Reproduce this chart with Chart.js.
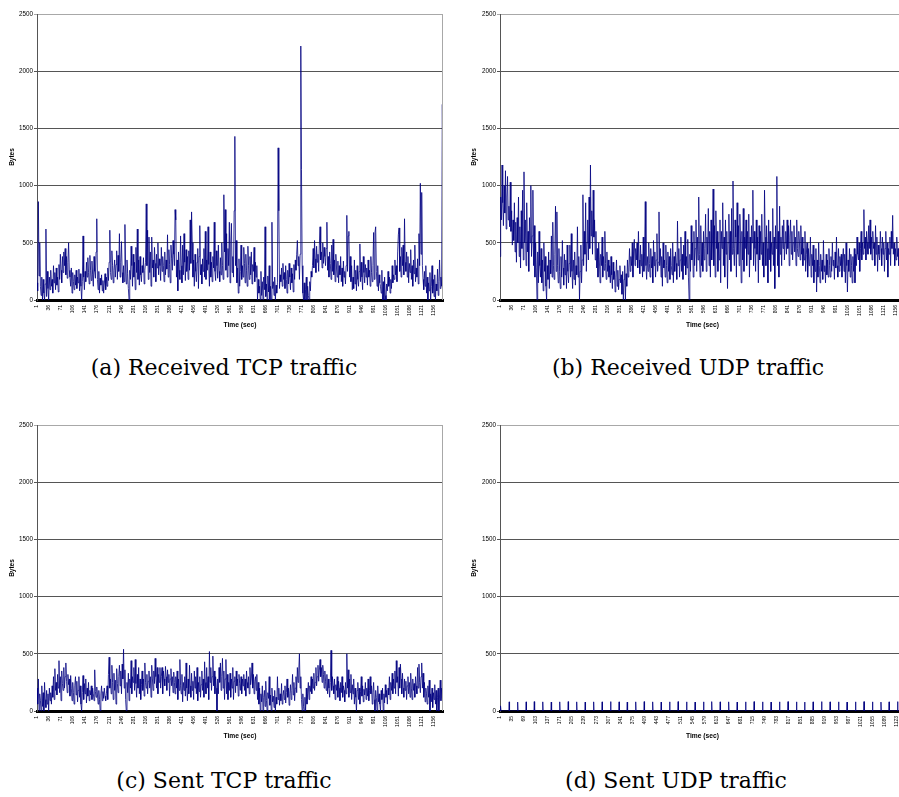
<!DOCTYPE html>
<html>
<head>
<meta charset="utf-8">
<script src="https://cdn.jsdelivr.net/npm/chart.js@4.4.1/dist/chart.umd.min.js"></script>
<style>
  body { margin: 0; width: 899px; height: 797px; overflow: hidden; background: #fff; position: relative; }
  canvas { position: absolute; }
  .caption { position: absolute; width: 400px; text-align: center; font-family: "DejaVu Serif", serif; font-size: 22px; color: #000; white-space: nowrap; }
</style>
</head>
<body>
<canvas id="tcpRecvChart" width="450" height="335" style="left:0;top:0"></canvas>
<canvas id="udpRecvChart" width="460" height="335" style="left:450px;top:0"></canvas>
<canvas id="tcpSentChart" width="450" height="335" style="left:0;top:411px"></canvas>
<canvas id="udpSentChart" width="460" height="335" style="left:450px;top:411px"></canvas>
<div class="caption" style="left:24px;top:355px">(a) Received TCP traffic</div>
<div class="caption" style="left:488px;top:355px">(b) Received UDP traffic</div>
<div class="caption" style="left:24px;top:768px">(c) Sent TCP traffic</div>
<div class="caption" style="left:476px;top:768px">(d) Sent UDP traffic</div>
<script>
// one sample every 2 seconds, starting at t = 1
const SAMPLE_STEP = 2;

const timeTicks = [1, 36, 71, 106, 141, 176, 211, 246, 281, 316, 351, 386, 421, 456, 491, 526, 561,
  596, 631, 666, 701, 736, 771, 806, 841, 876, 911, 946, 981, 1016, 1051, 1086, 1121, 1156];
const udpSentTimeTicks = [1, 35, 69, 103, 137, 171, 205, 239, 273, 307, 341, 375, 409, 443, 477, 511,
  545, 579, 613, 647, 681, 715, 749, 783, 817, 851, 885, 919, 953, 987, 1021, 1055, 1089, 1123];

// received TCP bytes
const tcpReceived = [
  150, 80, 860, 210, 500, 120, 40, 200, 0, 180, 60, 0, 140, 620, 30, 250, 100, 0, 200, 90,
  260, 120, 180, 60, 300, 150, 240, 90, 280, 130, 200, 70, 310, 180, 400, 260, 150, 380, 240, 420,
  300, 450, 220, 380, 190, 330, 500, 260, 200, 120, 280, 60, 240, 160, 90, 220, 130, 260, 100, 200,
  150, 270, 80, 230, 120, 0, 160, 560, 200, 90, 250, 160, 330, 200, 370, 240, 140, 390, 260, 170,
  340, 220, 120, 380, 250, 190, 420, 710, 180, 90, 250, 60, 190, 130, 220, 80, 170, 60, 140, 230,
  90, 200, 120, 280, 170, 330, 610, 240, 180, 430, 300, 150, 260, 350, 200, 310, 430, 180, 390, 250,
  580, 200, 330, 510, 240, 150, 300, 160, 660, 280, 140, 350, 230, 100, 0, 260, 180, 470, 300, 120,
  400, 200, 330, 90, 460, 240, 620, 180, 350, 130, 380, 220, 160, 300, 240, 370, 140, 260, 330, 840,
  300, 610, 180, 550, 240, 420, 120, 550, 280, 350, 200, 460, 320, 160, 400, 280, 500, 220, 360, 300,
  170, 460, 250, 380, 300, 160, 420, 220, 350, 270, 570, 200, 440, 310, 150, 480, 360, 260, 520, 400,
  300, 790, 700, 200, 350, 80, 420, 260, 180, 560, 300, 150, 480, 220, 580, 330, 170, 440, 250, 380,
  180, 430, 260, 700, 320, 770, 500, 200, 350, 120, 400, 250, 160, 330, 450, 100, 380, 650, 220, 310,
  140, 360, 250, 450, 200, 600, 180, 350, 260, 640, 310, 120, 420, 200, 330, 160, 380, 280, 680, 250,
  170, 430, 300, 190, 480, 250, 160, 370, 220, 500, 300, 180, 920, 420, 790, 260, 580, 200, 450, 300,
  680, 150, 500, 670, 240, 380, 200, 780, 1430, 300, 520, 150, 280, 60, 360, 120, 250, 480, 180, 300,
  200, 460, 320, 150, 400, 260, 120, 470, 300, 180, 380, 220, 420, 140, 310, 250, 460, 160, 330, 200,
  300, 0, 180, 60, 120, 0, 250, 40, 160, 0, 200, 90, 640, 30, 140, 0, 210, 70, 300, 0,
  120, 0, 680, 100, 160, 40, 200, 0, 130, 60, 150, 1330, 780, 100, 220, 160, 280, 120, 320, 180,
  240, 100, 300, 180, 60, 260, 140, 320, 200, 90, 280, 150, 230, 70, 310, 180, 350, 260, 400, 520,
  300, 380, 180, 400, 2220, 1140, 300, 60, 0, 150, 0, 90, 200, 0, 120, 40, 0, 160, 80, 250,
  200, 300, 450, 280, 520, 360, 240, 470, 330, 400, 250, 480, 640, 350, 420, 280, 500, 320, 460, 380,
  300, 450, 680, 260, 380, 200, 420, 320, 180, 480, 250, 530, 220, 350, 160, 400, 280, 200, 340, 150,
  300, 220, 380, 160, 280, 120, 340, 200, 250, 140, 300, 740, 250, 560, 600, 200, 380, 160, 300, 90,
  200, 100, 350, 140, 260, 80, 300, 180, 120, 250, 490, 160, 330, 200, 90, 380, 240, 150, 310, 200,
  280, 130, 350, 200, 260, 120, 380, 240, 160, 300, 590, 180, 590, 640, 250, 120, 300, 80, 220, 150,
  120, 60, 260, 0, 160, 0, 200, 40, 0, 140, 80, 250, 120, 200, 60, 180, 100, 300, 150, 220,
  180, 350, 220, 300, 160, 420, 570, 630, 250, 380, 200, 460, 300, 480, 220, 710, 330, 250, 420, 200,
  380, 150, 320, 240, 440, 180, 300, 120, 350, 230, 480, 160, 280, 200, 360, 140, 580, 300, 1020, 400,
  940, 300, 180, 90, 250, 120, 300, 60, 200, 0, 150, 80, 240, 0, 120, 300, 60, 180, 30, 220,
  0, 140, 80, 270, 40, 160, 350, 100, 200, 120, 1710, 950
];

// received UDP bytes
const udpReceived = [
  380, 900, 700, 1180, 850, 650, 1000, 760, 1130, 620, 900, 1080, 700, 820, 640, 1030, 600, 780, 480, 700,
  520, 850, 420, 680, 330, 720, 500, 900, 380, 640, 280, 780, 450, 960, 350, 1120, 500, 700, 300, 850,
  420, 600, 250, 720, 500, 1000, 380, 560, 960, 300, 650, 200, 500, 280, 0, 420, 150, 600, 300, 200,
  450, 150, 350, 80, 500, 250, 380, 120, 0, 300, 180, 420, 100, 350, 230, 560, 200, 680, 300, 180,
  400, 820, 250, 770, 300, 150, 450, 250, 100, 380, 200, 520, 280, 130, 400, 220, 350, 100, 480, 250,
  150, 320, 480, 200, 580, 250, 100, 350, 180, 420, 130, 300, 220, 640, 200, 380, 0, 250, 480, 150,
  350, 920, 300, 600, 400, 850, 250, 500, 700, 350, 900, 450, 1180, 560, 780, 400, 960, 550, 700, 350,
  600, 280, 450, 200, 500, 350, 150, 400, 300, 550, 200, 380, 260, 600, 320, 180, 420, 250, 350, 200,
  300, 150, 380, 220, 100, 330, 180, 250, 70, 200, 350, 120, 260, 90, 180, 300, 150, 220, 50, 250,
  0, 180, 300, 0, 230, 120, 350, 200, 280, 450, 250, 380, 300, 500, 200, 420, 530, 300, 450, 350,
  500, 280, 600, 350, 230, 480, 300, 400, 200, 550, 250, 420, 860, 300, 180, 380, 250, 500, 320, 200,
  450, 280, 380, 150, 520, 300, 420, 200, 350, 580, 250, 330, 770, 300, 450, 200, 380, 120, 500, 280,
  350, 200, 480, 300, 150, 420, 250, 380, 180, 450, 300, 220, 500, 150, 380, 250, 420, 320, 180, 690,
  300, 450, 200, 350, 550, 250, 400, 180, 480, 300, 600, 220, 380, 280, 530, 200, 0, 400, 250, 650,
  350, 500, 200, 600, 300, 450, 700, 250, 550, 350, 900, 400, 200, 650, 300, 500, 250, 600, 350, 450,
  750, 250, 550, 400, 800, 300, 600, 200, 700, 350, 500, 970, 300, 650, 200, 780, 450, 600, 250, 500,
  350, 700, 150, 600, 450, 850, 300, 550, 200, 700, 400, 600, 100, 500, 750, 350, 600, 250, 800, 400,
  1040, 450, 300, 700, 550, 200, 850, 400, 650, 300, 750, 500, 150, 600, 350, 800, 250, 550, 450, 700,
  300, 600, 400, 750, 200, 550, 350, 650, 500, 960, 300, 600, 450, 250, 700, 400, 550, 150, 650, 350,
  600, 400, 750, 300, 500, 200, 960, 550, 300, 650, 450, 150, 700, 350, 600, 250, 500, 400, 800, 300,
  550, 100, 650, 450, 1080, 300, 600, 200, 820, 400, 550, 300, 650, 450, 700, 350, 500, 600, 400, 700,
  450, 650, 300, 550, 700, 400, 600, 350, 500, 650, 420, 550, 300, 700, 450, 380, 600, 500, 350, 650,
  400, 550, 300, 450, 350, 600, 250, 400, 500, 200, 450, 300, 350, 550, 200, 400, 300, 480, 150, 350,
  250, 450, 70, 350, 200, 500, 300, 150, 400, 250, 350, 180, 520, 250, 300, 150, 400, 220, 350, 200,
  450, 300, 200, 380, 250, 500, 300, 350, 180, 420, 280, 550, 300, 200, 450, 250, 380, 300, 400, 200,
  350, 450, 250, 400, 150, 500, 300, 70, 350, 250, 450, 200, 400, 300, 150, 380, 250, 450, 150, 400,
  300, 550, 400, 350, 500, 250, 450, 600, 350, 500, 400, 790, 450, 550, 350, 600, 500, 400, 650, 450,
  700, 400, 550, 350, 600, 450, 500, 300, 650, 400, 550, 250, 480, 400, 350, 600, 450, 300, 550, 400,
  500, 250, 450, 600, 350, 500, 200, 450, 400, 550, 300, 600, 450, 740, 400, 500, 300, 450, 350, 550,
  380, 450, 300, 500, 350, 420, 280, 480, 400, 350, 450, 380
];

// sent TCP bytes
const tcpSent = [
  200, 60, 280, 0, 150, 90, 0, 220, 40, 160, 0, 250, 100, 30, 180, 60, 150, 0, 200, 90,
  160, 60, 220, 120, 300, 100, 370, 180, 250, 140, 320, 200, 440, 160, 300, 90, 350, 240, 180, 380,
  200, 300, 420, 260, 160, 320, 230, 280, 130, 310, 200, 90, 250, 160, 60, 220, 300, 140, 260, 80,
  180, 300, 120, 220, 60, 0, 160, 310, 100, 240, 150, 280, 70, 200, 130, 250, 90, 180, 140, 220,
  100, 200, 150, 90, 360, 170, 120, 210, 140, 60, 180, 100, 0, 150, 220, 90, 170, 110, 200, 130,
  90, 150, 220, 100, 320, 470, 200, 280, 150, 400, 250, 100, 330, 180, 270, 60, 370, 240, 160, 300,
  400, 220, 350, 150, 410, 280, 540, 200, 360, 100, 0, 250, 160, 330, 90, 280, 200, 440, 150, 300,
  250, 380, 180, 450, 240, 120, 320, 200, 380, 150, 280, 100, 230, 350, 180, 280, 130, 420, 250, 200,
  320, 150, 260, 350, 200, 300, 120, 400, 280, 180, 350, 240, 460, 300, 200, 380, 150, 320, 250, 380,
  200, 300, 380, 150, 350, 280, 220, 390, 300, 180, 360, 250, 320, 130, 280, 370, 220, 300, 160, 340,
  250, 150, 300, 200, 350, 100, 280, 180, 450, 220, 150, 320, 80, 250, 180, 300, 130, 420, 200, 90,
  280, 150, 400, 220, 120, 330, 180, 260, 100, 350, 200, 300, 150, 380, 90, 250, 170, 300, 120, 230,
  350, 180, 280, 120, 430, 250, 150, 380, 200, 300, 100, 520, 250, 380, 180, 300, 480, 220, 350, 150,
  300, 200, 0, 280, 150, 380, 250, 420, 180, 300, 460, 200, 350, 100, 280, 450, 150, 320, 100, 250,
  180, 330, 120, 280, 200, 380, 100, 260, 300, 160, 350, 220, 280, 130, 320, 240, 180, 300, 150, 280,
  220, 320, 180, 280, 130, 350, 250, 200, 300, 150, 380, 230, 280, 420, 200, 320, 150, 260, 300, 180,
  320, 100, 250, 60, 200, 0, 150, 80, 220, 0, 120, 180, 40, 260, 90, 0, 160, 110, 300, 50,
  140, 0, 200, 80, 130, 30, 180, 0, 120, 60, 300, 100, 200, 50, 150, 90, 240, 60, 130, 180,
  100, 220, 70, 160, 280, 120, 200, 50, 150, 230, 100, 180, 320, 140, 250, 90, 200, 300, 160, 380,
  250, 350, 500, 200, 300, 100, 0, 150, 40, 0, 120, 0, 200, 60, 150, 250, 100, 220, 170, 300,
  150, 280, 200, 330, 180, 250, 380, 220, 300, 400, 260, 350, 450, 300, 380, 250, 400, 320, 200, 350,
  260, 180, 320, 150, 280, 200, 120, 250, 530, 180, 300, 220, 150, 280, 100, 230, 180, 300, 120, 260,
  200, 90, 250, 160, 300, 120, 220, 180, 80, 250, 150, 500, 200, 360, 120, 280, 160, 320, 100, 230,
  150, 280, 60, 200, 120, 0, 180, 250, 100, 200, 60, 170, 300, 130, 220, 80, 190, 140, 250, 100,
  200, 130, 280, 90, 180, 300, 150, 220, 60, 160, 250, 100, 0, 180, 120, 0, 220, 80, 150, 60,
  0, 180, 100, 200, 0, 150, 70, 230, 120, 180, 60, 200, 140, 300, 100, 250, 180, 330, 150, 280,
  200, 350, 150, 440, 250, 300, 130, 380, 200, 410, 280, 150, 330, 200, 120, 280, 180, 260, 100, 220,
  300, 150, 250, 120, 330, 200, 100, 280, 180, 240, 120, 300, 220, 150, 380, 200, 410, 250, 160, 300,
  420, 200, 330, 120, 250, 80, 200, 150, 60, 220, 120, 270, 0, 150, 80, 200, 30, 160, 100, 230,
  60, 180, 0, 120, 200, 0, 140, 270, 90, 200, 110, 240
];

// sent UDP: short bursts on an otherwise idle link
const udpSentBurstTimes = [3, 27, 51, 75, 98, 122, 146, 170, 194, 218, 242, 266, 290, 314, 338, 361,
  385, 409, 433, 457, 481, 505, 529, 553, 577, 600, 624, 648, 672, 696, 720, 744, 768, 792, 816, 840,
  863, 887, 911, 935, 959, 983, 1007, 1031, 1055, 1079, 1102, 1126];
const udpSentBurstBytes = [45, 80, 78, 80, 82, 80, 78, 80, 82, 80, 78, 80, 80, 82, 80, 78, 80, 82,
  80, 78, 80, 82, 80, 78, 80, 82, 80, 80, 78, 80, 82, 80, 78, 80, 82, 80, 78, 80, 82, 80, 80, 78, 80,
  82, 80, 78, 80, 82];
const UDP_SENT_END = 1147;

function sampled(values) {
  return values.map((v, i) => ({ x: 1 + i * SAMPLE_STEP, y: v }));
}

function burstSeries(times, bytes, end) {
  const pts = [{ x: 1, y: 0 }];
  times.forEach((t, i) => {
    pts.push({ x: t - 1, y: 0 }, { x: t, y: bytes[i] }, { x: t + 1, y: 0 });
  });
  pts.push({ x: end, y: 0 });
  return pts;
}

// right-hand edge of the plot area
const plotFrame = {
  id: 'plotFrame',
  afterDraw(chart) {
    const { ctx, chartArea: a } = chart;
    ctx.save();
    ctx.strokeStyle = '#a8a8a8';
    ctx.lineWidth = 1;
    ctx.beginPath();
    ctx.moveTo(Math.round(a.right) - 0.5, a.top);
    ctx.lineTo(Math.round(a.right) - 0.5, a.bottom);
    ctx.stroke();
    ctx.restore();
  }
};

const axisFont = 'Liberation Sans, Arial, sans-serif';

function makeOptions(xMax, xTicks, yWidth, padRight, titleOffset) {
  return {
    responsive: false,
    animation: false,
    events: [],
    parsing: false,
    layout: { padding: { top: 14, right: padRight, left: 0, bottom: 0 } },
    plugins: { legend: { display: false }, tooltip: { enabled: false } },
    elements: { point: { radius: 0 }, line: { borderWidth: 0.8, tension: 0 } },
    scales: {
      x: {
        type: 'linear',
        min: 1,
        max: xMax,
        afterBuildTicks: (axis) => { axis.ticks = xTicks.map((v) => ({ value: v })); },
        afterFit: (axis) => { axis.height = 35; },
        grid: { display: false, drawTicks: false },
        border: { display: true, color: '#000', width: 3 },
        ticks: {
          autoSkip: false,
          maxRotation: 90,
          minRotation: 90,
          padding: 5,
          color: '#000',
          font: { family: axisFont, size: 5 },
          callback: (v) => String(v)
        },
        title: {
          display: true,
          text: 'Time (sec)',
          color: '#000',
          padding: { top: 0, bottom: 6 },
          font: { family: axisFont, size: 6.7, weight: 'bold' }
        }
      },
      y: {
        min: 0,
        max: 2500,
        afterFit: (axis) => { axis.width = yWidth; },
        ticks: {
          stepSize: 500,
          padding: 1,
          color: '#000',
          font: { family: axisFont, size: 6.3 },
          callback: (v) => String(v)
        },
        grid: {
          color: (c) => (c.tick.value === 2500 ? '#a8a8a8' : '#555'),
          tickLength: 3
        },
        border: { color: '#555', width: 1 },
        title: {
          display: true,
          text: 'Bytes',
          color: '#000',
          padding: { top: titleOffset, bottom: 0 },
          font: { family: axisFont, size: 6.5, weight: 'bold' }
        }
      }
    }
  };
}

function lineChart(id, points, options) {
  return new Chart(document.getElementById(id), {
    type: 'line',
    data: {
      datasets: [{
        data: points,
        borderColor: '#000080',
        borderWidth: 0.8,
        fill: false
      }]
    },
    options,
    plugins: [plotFrame]
  });
}

lineChart('tcpRecvChart', sampled(tcpReceived), makeOptions(1183, timeTicks, 37, 7, 8));
lineChart('udpRecvChart', sampled(udpReceived), makeOptions(1183, timeTicks, 50, 5, 20));
lineChart('tcpSentChart', sampled(tcpSent), makeOptions(1183, timeTicks, 37, 7, 8));
lineChart('udpSentChart', burstSeries(udpSentBurstTimes, udpSentBurstBytes, UDP_SENT_END),
  makeOptions(UDP_SENT_END, udpSentTimeTicks, 50, 5, 20));
</script>
</body>
</html>
